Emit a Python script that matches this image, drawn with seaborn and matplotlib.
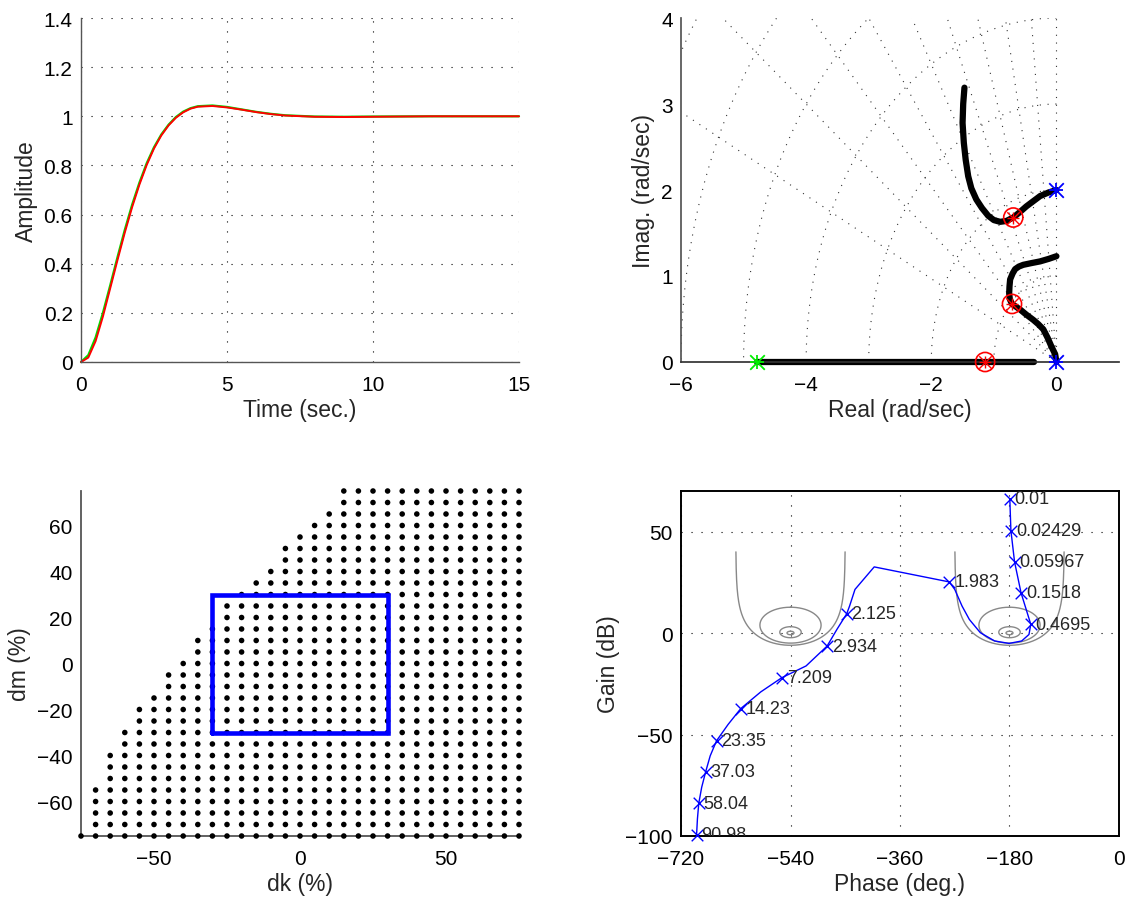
import numpy as np
import pandas as pd
import matplotlib
matplotlib.use("Agg")
import matplotlib.pyplot as plt
import seaborn as sns
from matplotlib.ticker import FixedLocator, FixedFormatter, MultipleLocator

# ---------------- data ----------------
# step response
step_t = [0, 0.25, 0.5, 0.75, 1.0, 1.25, 1.5, 1.75, 2.0, 2.25, 2.5, 2.75, 3.0, 3.25, 3.5,
          3.75, 4.0, 4.5, 5.0, 5.5, 6.0, 6.5, 7.0, 8.0, 9.0, 10.0, 12.0, 15.0]
step_red = [0, 0.018, 0.085, 0.185, 0.300, 0.415, 0.527, 0.630, 0.722, 0.802, 0.869, 0.922,
            0.963, 0.994, 1.016, 1.031, 1.039, 1.042, 1.036, 1.027, 1.017, 1.009, 1.003,
            0.998, 0.997, 0.998, 1.0, 1.0]
step_green = [0, 0.028, 0.100, 0.200, 0.312, 0.427, 0.538, 0.640, 0.730, 0.809, 0.874, 0.926,
              0.966, 0.997, 1.019, 1.033, 1.041, 1.044, 1.038, 1.028, 1.018, 1.010, 1.004,
              0.999, 0.998, 0.999, 1.0, 1.0]

# root locus branches
rl_a_x = [0.0, -0.13, -0.26, -0.37, -0.48, -0.59, -0.69, -0.80, -0.90, -1.00, -1.09, -1.19,
          -1.28, -1.36, -1.41, -1.45, -1.48, -1.50, -1.49, -1.47]
rl_a_y = [2.0, 1.97, 1.93, 1.87, 1.81, 1.74, 1.68, 1.64, 1.63, 1.65, 1.70, 1.79,
          1.89, 2.02, 2.16, 2.35, 2.55, 2.78, 3.00, 3.19]
rl_b_x = [0.0, -0.02, -0.08, -0.14, -0.21, -0.29, -0.37, -0.48, -0.58, -0.65, -0.71, -0.745,
          -0.755, -0.75, -0.74, -0.70, -0.66, -0.60, -0.53, -0.40, -0.26, -0.12, 0.0]
rl_b_y = [0.0, 0.09, 0.18, 0.28, 0.38, 0.44, 0.49, 0.55, 0.61, 0.645, 0.675, 0.73,
          0.80, 0.88, 0.96, 1.03, 1.08, 1.11, 1.13, 1.15, 1.17, 1.20, 1.23]
rl_c_x = [-4.78, -0.36]
rl_c_y = [0.0, 0.0]
ol_pole_x = [0.0, 0.0]
ol_pole_y = [2.0, 0.0]
ol_green_x = [-4.78]
ol_green_y = [0.0]
cl_pole_x = [-0.69, -0.71, -1.14]
cl_pole_y = [1.68, 0.675, 0.0]
sgrid_zeta = [0.1, 0.2, 0.3, 0.4, 0.5, 0.6, 0.7, 0.8, 0.9]
sgrid_wn = [1, 2, 3, 4, 5, 6, 7]

# robustness grid (rows of dm, left-most dk in each row)
rob_dm = [75, 70, 65, 60, 55, 50, 45, 40, 35, 30, 25, 20, 15, 10, 5, 0, -5, -10, -15, -20,
          -25, -30, -35, -40, -45, -50, -55, -60, -65, -70, -75]
rob_dk_min = [15, 15, 10, 5, 0, -5, -5, -10, -15, -20, -25, -25, -30, -35, -35, -40, -45, -45,
              -50, -55, -55, -60, -60, -65, -65, -65, -70, -70, -70, -70, -75]
rob_dk_max = 75
box_dk = [-30, 30, 30, -30, -30]
box_dm = [-30, -30, 30, 30, -30]

# Nichols curve
nic_phase = [-179.5, -177.7, -171.7, -161.0, -145.0, -148.0, -160.0, -180.7, -204.5, -228.0,
             -246.0, -258.0, -270.0, -279.0, -402.4, -434.0, -442.9, -447.6, -463.7, -479.8,
             -514.4, -554.3, -588.9, -621.7, -642.5, -661.6, -672.0, -679.5, -686.0, -690.8,
             -693.0, -694.4]
nic_gain = [66.1, 50.5, 35.1, 19.8, 4.3, -0.7, -3.9, -5.1, -3.9, 0.2,
            6.7, 13.3, 21.5, 25.2, 32.6, 21.5, 13.3, 9.5, 1.8, -6.4,
            -16.2, -22.0, -29.0, -37.2, -45.0, -53.1, -60.5, -68.4, -76.0, -83.9,
            -91.6, -99.5]
freq_labels = ["0.01", "0.02429", "0.05967", "0.1518", "0.4695", "1.983", "2.125", "2.934",
               "7.209", "14.23", "23.35", "37.03", "58.04", "90.98"]
freq_phase = [-179.5, -177.7, -171.7, -161.0, -145.0, -279.0, -447.6, -479.8, -554.3, -621.7,
              -661.6, -679.5, -690.8, -694.4]
freq_gain = [66.1, 50.5, 35.1, 19.8, 4.3, 25.2, 9.5, -6.4, -22.0, -37.2, -53.1, -68.4,
             -83.9, -99.5]
ngrid_M = [1.0, 1.3, 3.3, 10.0]

# ---------------- style ----------------
sns.set_theme(style="white")
plt.rcParams["font.family"] = ["Liberation Sans", "DejaVu Sans"]
plt.rcParams["axes.unicode_minus"] = True

TICK_FS = 15
LAB_FS = 16.5
dot_ls = (0, (1, 8))

fig = plt.figure(figsize=(11.28, 9.03), dpi=100)
W, H = 1128.0, 903.0


def axes_px(left, top, right, bottom):
    return fig.add_axes([left / W, 1 - bottom / H, (right - left) / W, (bottom - top) / H])


ax1 = axes_px(81, 19, 519, 363)
ax2 = axes_px(681, 19, 1119, 363)
ax3 = axes_px(81, 492, 519, 837)
ax4 = axes_px(681, 492, 1119, 837)

for ax in (ax1, ax2, ax3, ax4):
    ax.set_facecolor("white")
    ax.tick_params(direction="in", labelsize=TICK_FS, length=5, width=0.8,
                   colors="#444444", labelcolor="black", pad=6)
    ax.tick_params(axis="x", pad=9.5)
    ax.tick_params(which="minor", direction="in", length=2.5, width=0.6, colors="#444444")

# ---------- panel 1: step response ----------
df_step = pd.DataFrame({"t": step_t, "red": step_red, "green": step_green})
sns.lineplot(data=df_step, x="t", y="green", color="#00dd00", lw=1.6, ax=ax1, clip_on=False)
sns.lineplot(data=df_step, x="t", y="red", color="#ff0000", lw=1.4, ax=ax1, clip_on=False)
ax1.set_xlim(0, 15)
ax1.set_ylim(0, 1.4)
ax1.xaxis.set_major_locator(FixedLocator([0, 5, 10, 15]))
ax1.yaxis.set_major_locator(FixedLocator([0, 0.2, 0.4, 0.6, 0.8, 1.0, 1.2, 1.4]))
ax1.yaxis.set_major_formatter(FixedFormatter(["0", "0.2", "0.4", "0.6", "0.8", "1", "1.2", "1.4"]))
ax1.xaxis.set_minor_locator(MultipleLocator(0.5))
ax1.yaxis.set_minor_locator(MultipleLocator(0.05))
ax1.grid(True, which="major", linestyle=dot_ls, color="black", lw=0.8)
ax1.set_xlabel("Time (sec.)", fontsize=LAB_FS, labelpad=3)
ax1.set_ylabel("Amplitude", fontsize=LAB_FS)
for s in ("top", "right"):
    ax1.spines[s].set_visible(False)
for s in ("left", "bottom"):
    ax1.spines[s].set_color("#555555")
    ax1.spines[s].set_linewidth(1.0)

# ---------- panel 2: root locus ----------
ang = np.linspace(np.pi / 2, np.pi, 200)
for wn in sgrid_wn:
    sns.lineplot(x=wn * np.cos(ang), y=wn * np.sin(ang), sort=False, estimator=None,
                 color="#333333", lw=0.8, linestyle=(0, (1, 6)), ax=ax2)
for z in sgrid_zeta:
    r = np.array([0.0, 10.0])
    sns.lineplot(x=-z * r, y=np.sqrt(1 - z ** 2) * r, sort=False, estimator=None,
                 color="#333333", lw=0.8, linestyle=(0, (1, 6)), ax=ax2)
sns.lineplot(x=[0, 0], y=[0, 4], sort=False, estimator=None, color="#333333", lw=0.8,
             linestyle=(0, (1, 6)), ax=ax2)

for bx, by in ((rl_a_x, rl_a_y), (rl_b_x, rl_b_y), (rl_c_x, rl_c_y)):
    sns.lineplot(x=bx, y=by, sort=False, estimator=None, color="black", lw=4.5,
                 solid_capstyle="round", solid_joinstyle="round", ax=ax2, clip_on=False)

for mk in ("+", "x"):
    sns.scatterplot(x=ol_pole_x, y=ol_pole_y, marker=mk, s=110, color="#0000ff",
                    linewidth=1.3, ax=ax2, clip_on=False, zorder=5)
    sns.scatterplot(x=ol_green_x, y=ol_green_y, marker=mk, s=110, color="#00ee00",
                    linewidth=1.3, ax=ax2, clip_on=False, zorder=5)
    sns.scatterplot(x=cl_pole_x, y=cl_pole_y, marker=mk, s=80, color="#ff0000",
                    linewidth=1.0, ax=ax2, clip_on=False, zorder=6)
sns.scatterplot(x=cl_pole_x, y=cl_pole_y, marker="o", s=190, facecolor="none",
                edgecolor="#ff0000", linewidth=1.2, ax=ax2, clip_on=False, zorder=6)

ax2.set_xlim(-6, 1)
ax2.set_ylim(0, 4)
ax2.xaxis.set_major_locator(FixedLocator([-6, -4, -2, 0]))
ax2.yaxis.set_major_locator(FixedLocator([0, 1, 2, 3, 4]))
ax2.xaxis.set_minor_locator(MultipleLocator(0.2))
ax2.yaxis.set_minor_locator(MultipleLocator(0.2))
ax2.set_xlabel("Real (rad/sec)", fontsize=LAB_FS, labelpad=3)
ax2.set_ylabel("Imag. (rad/sec)", fontsize=LAB_FS)
for s in ("top", "right"):
    ax2.spines[s].set_visible(False)
ax2.spines["left"].set_color("#555555")
ax2.spines["bottom"].set_color("#333333")

# ---------- panel 3: robustness region ----------
pts_x, pts_y = [], []
for dm, dkmin in zip(rob_dm, rob_dk_min):
    for dk in range(dkmin, rob_dk_max + 1, 5):
        pts_x.append(dk)
        pts_y.append(dm)
sns.scatterplot(x=pts_x, y=pts_y, s=16, color="black", edgecolor="none", ax=ax3,
                clip_on=False, zorder=3)
sns.lineplot(x=box_dk, y=box_dm, sort=False, estimator=None, color="#0000ff", lw=3.3,
             ax=ax3, zorder=4, solid_joinstyle="miter")
ax3.set_xlim(-75, 75)
ax3.set_ylim(-75, 75)
ax3.xaxis.set_major_locator(FixedLocator([-50, 0, 50]))
ax3.yaxis.set_major_locator(FixedLocator([-60, -40, -20, 0, 20, 40, 60]))
ax3.set_xlabel("dk (%)", fontsize=LAB_FS, labelpad=3)
ax3.set_ylabel("dm (%)", fontsize=LAB_FS)
for s in ("top", "right"):
    ax3.spines[s].set_visible(False)
for s in ("left", "bottom"):
    ax3.spines[s].set_color("#555555")
    ax3.spines[s].set_linewidth(1.3)

# ---------- panel 4: Nichols ----------
for M in ngrid_M:
    if M == 1.0:
        th = np.linspace(0.0100001, 2 * np.pi - 0.0100001, 800)
    else:
        th = np.linspace(0, 2 * np.pi, 400)
    T = M * np.exp(1j * th)
    G = T / (1 - T)
    g_db = 20 * np.log10(np.abs(G))
    ph = np.mod(np.degrees(np.angle(G)), 360) - 360
    keep = g_db <= 40
    for shift in (0, -360):
        sns.lineplot(x=ph[keep] + shift, y=g_db[keep], sort=False, estimator=None,
                     color="#888888", lw=1.0, ax=ax4)

sns.lineplot(x=nic_phase, y=nic_gain, sort=False, estimator=None, color="#0000ff", lw=1.0,
             ax=ax4, zorder=4)
sns.scatterplot(x=freq_phase, y=freq_gain, marker="x", s=70, color="#0000ff", linewidth=1.0,
                ax=ax4, zorder=5, clip_on=False)
for lab, px, py in zip(freq_labels, freq_phase, freq_gain):
    ax4.text(px + 8, py, lab, fontsize=13, va="center", ha="left", clip_on=True, zorder=6)

ax4.set_xlim(-720, 0)
ax4.set_ylim(-100, 70)
ax4.xaxis.set_major_locator(FixedLocator([-720, -540, -360, -180, 0]))
ax4.yaxis.set_major_locator(FixedLocator([-100, -50, 0, 50]))
ax4.grid(True, which="major", linestyle=dot_ls, color="black", lw=0.8)
ax4.set_xlabel("Phase (deg.)", fontsize=LAB_FS, labelpad=3)
ax4.set_ylabel("Gain (dB)", fontsize=LAB_FS)
for s in ax4.spines.values():
    s.set_color("black")
    s.set_linewidth(1.4)
    s.set_visible(True)

fig.savefig("out.png", dpi=100, facecolor="white")
